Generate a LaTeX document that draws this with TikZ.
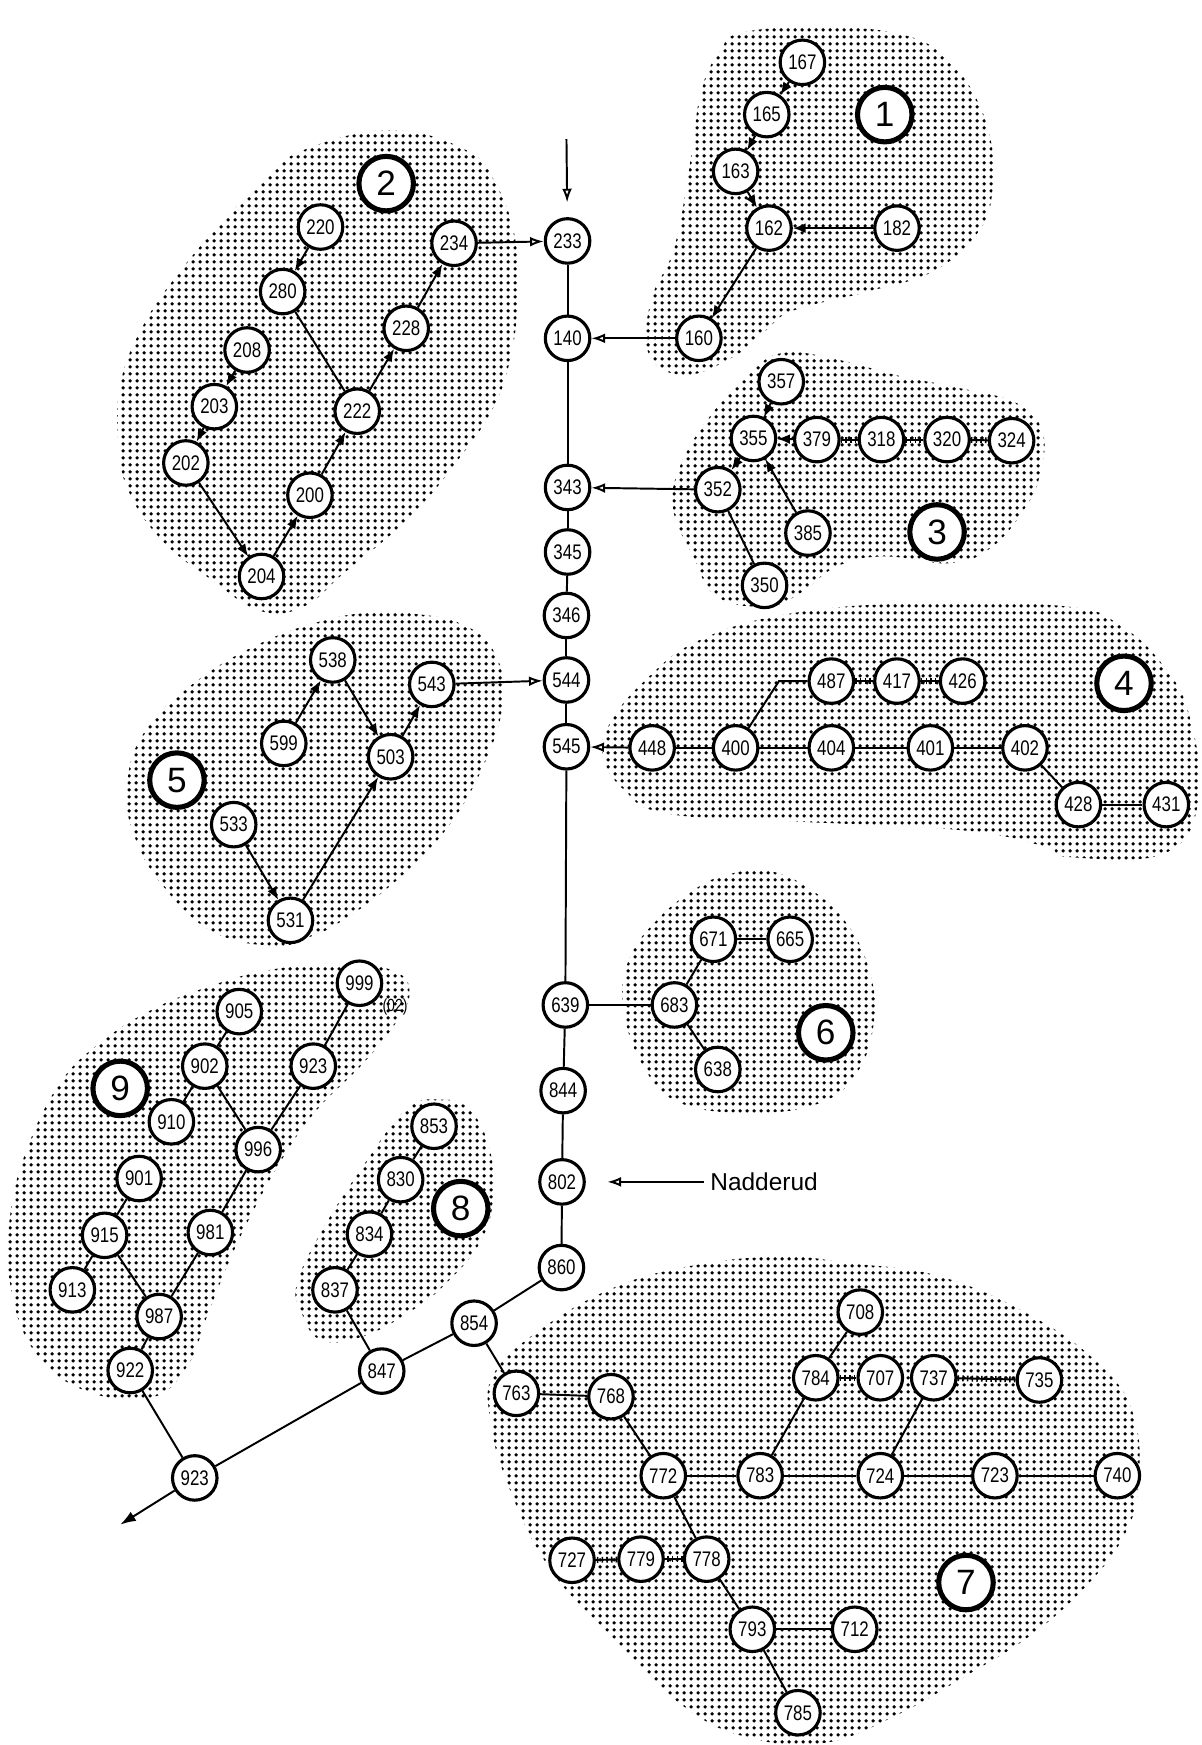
\documentclass[tikz,border=0pt]{standalone}
\usepackage{fontspec}
\setmainfont{Liberation Sans}
\newfontfamily\numfont[FakeStretch=0.8]{Liberation Sans}
\usetikzlibrary{arrows.meta,patterns.meta}

\pgfdeclarepattern{
  name=halftone,
  type=uncolored,
  bottom left={\pgfpoint{0pt}{0pt}},
  top right={\pgfpoint{3.4pt}{3.4pt}},
  tile size={\pgfpoint{3.4pt}{3.4pt}},
  code={\pgfpathcircle{\pgfpoint{1.7pt}{1.7pt}}{1.0pt}\pgfusepath{fill}}
}

\tikzset{
  stn/.style={circle, draw=black, line width=1.6pt, fill=white, minimum size=0.8cm,
    inner sep=0pt, font=\numfont\fontsize{10.8}{11}\selectfont},
  bigl/.style={circle, draw=black, line width=2.6pt, fill=white, minimum size=0.98cm,
    inner sep=0pt, font=\fontsize{18}{18}\selectfont},
  link/.style={line width=1pt},
  arr/.style={link, -{Latex[length=6.5pt,width=5pt]}},
  oarr/.style={link, -{Latex[open,length=7pt,width=5pt]}},
  rail/.style={line width=3pt, dash pattern=on 0.8pt off 1.6pt},
  blob/.style={pattern=halftone, pattern color=black}
}

\begin{document}
\begin{tikzpicture}[x=0.02cm, y=-0.02cm]
\fill[white] (0,0) rectangle (1080,1568);
\useasboundingbox (0,0) rectangle (1080,1568);

% ---------- shaded areas ----------
\fill[blob] plot[smooth cycle, tension=0.7] coordinates {(668,29) (745,24) (818,33) (854,57) (877,88) (891,130) (892,170) (880,207) (840,243) (780,262) (713,279) (688,297) (660,320) (615,337) (583,318) (585,270) (606,222) (620,147) (630,82) (647,46)};
\fill[blob] plot[smooth cycle, tension=0.7] coordinates {(270,136) (350,117) (419,135) (446,166) (463,215) (465,270) (459,320) (444,365) (414,410) (369,464) (309,515) (273,545) (234,549) (190,521) (145,485) (115,440) (106,395) (109,341) (130,290) (160,246) (199,200) (235,165)};
\fill[blob] plot[smooth cycle, tension=0.7] coordinates {(674,335) (704,317) (752,323) (809,338) (854,347) (913,362) (937,389) (934,428) (922,455) (892,491) (854,506) (794,500) (752,509) (719,533) (689,545) (644,536) (623,500) (605,458) (611,419) (638,374)};
\fill[blob] plot[smooth cycle, tension=0.7] coordinates {(712,551) (827,542) (959,545) (1008,563) (1046,599) (1069,644) (1077,719) (1046,767) (959,770) (940,761) (864,746) (712,738) (599,731) (561,710) (542,680) (548,650) (580,611) (629,575)};
\fill[blob] plot[smooth cycle, tension=0.7] coordinates {(338,550) (368,551) (413,560) (443,584) (452,629) (434,689) (398,749) (353,794) (308,827) (278,842) (245,850) (189,836) (144,793) (120,749) (114,707) (129,659) (174,614) (234,578) (293,557)};
\fill[blob] plot[smooth cycle, tension=0.7] coordinates {(647,788) (686,782) (725,797) (761,830) (782,875) (785,920) (770,964) (737,991) (677,1000) (611,991) (578,958) (560,905) (566,860) (593,824) (623,800)};
\fill[blob] plot[smooth cycle, tension=0.7] coordinates {(240,872) (300,866) (353,872) (368,893) (353,923) (324,958) (285,997) (255,1039) (225,1093) (204,1138) (186,1183) (168,1228) (135,1256) (75,1249) (30,1213) (9,1153) (9,1093) (24,1033) (54,973) (90,937) (135,908) (186,887)};
\fill[blob] plot[smooth cycle, tension=0.7] coordinates {(395,988) (422,997) (440,1033) (443,1078) (431,1117) (401,1153) (371,1177) (326,1201) (288,1204) (270,1177) (267,1153) (288,1108) (326,1048) (365,997)};
\fill[blob] plot[smooth cycle, tension=0.7] coordinates {(700,1129) (763,1135) (845,1147) (928,1183) (990,1228) (1019,1273) (1023,1333) (1011,1378) (978,1423) (928,1468) (866,1507) (804,1542) (742,1566) (680,1563) (618,1536) (547,1468) (493,1408) (456,1333) (440,1273) (444,1234) (481,1198) (547,1159) (618,1138)};

% ---------- trunk ----------
\node[stn] (n233) at (510,216.5) {233};
\node[stn] (n140) at (510,304) {140};
\node[stn] (n343) at (510,438) {343};
\node[stn] (n345) at (510,496) {345};
\node[stn] (n346) at (509,553) {346};
\node[stn] (n544) at (509,611) {544};
\node[stn] (n545) at (509,671) {545};
\node[stn] (n639) at (508,903) {639};
\node[stn] (n844) at (506,980) {844};
\node[stn] (n802) at (505,1062) {802};
\node[stn] (n860) at (504.5,1139) {860};
\node[stn] (n854) at (426,1189) {854};
\node[stn] (n847) at (343,1232) {847};
\node[stn] (n923b) at (175,1328) {923};

% ---------- cluster 1 ----------
\node[stn] (n167) at (721,56) {167};
\node[stn] (n165) at (689,103) {165};
\node[stn] (n163) at (661,154) {163};
\node[stn] (n162) at (691,205) {162};
\node[stn] (n182) at (806,205) {182};
\node[stn] (n160) at (628,304) {160};
\node[bigl] (L1) at (795,103) {1};

% ---------- cluster 2 ----------
\node[stn] (n220) at (288,204) {220};
\node[stn] (n280) at (254,262) {280};
\node[stn] (n208) at (222,314.5) {208};
\node[stn] (n203) at (192.6,365.4) {203};
\node[stn] (n202) at (167,416) {202};
\node[stn] (n204) at (235,518) {204};
\node[stn] (n200) at (278.5,445) {200};
\node[stn] (n222) at (321,369.5) {222};
\node[stn] (n228) at (365,295) {228};
\node[stn] (n234) at (408,218.6) {234};
\node[bigl] (L2) at (347,165) {2};

% ---------- cluster 3 ----------
\node[stn] (n357) at (702,343) {357};
\node[stn] (n355) at (677,394) {355};
\node[stn] (n379) at (734,395) {379};
\node[stn] (n318) at (792,395) {318};
\node[stn] (n320) at (851,395) {320};
\node[stn] (n324) at (909,396) {324};
\node[stn] (n352) at (645,440) {352};
\node[stn] (n385) at (726,479) {385};
\node[stn] (n350) at (687,526) {350};
\node[bigl] (L3) at (842,478) {3};

% ---------- cluster 4 ----------
\node[stn] (n448) at (586,672) {448};
\node[stn] (n400) at (661,672) {400};
\node[stn] (n404) at (747,672) {404};
\node[stn] (n401) at (836,672) {401};
\node[stn] (n402) at (921,672) {402};
\node[stn] (n428) at (969,723) {428};
\node[stn] (n431) at (1048,723) {431};
\node[stn] (n487) at (747,612) {487};
\node[stn] (n417) at (806,612) {417};
\node[stn] (n426) at (865,612) {426};
\node[bigl] (L4) at (1010,614) {4};
\coordinate (c400) at (700,612);

% ---------- cluster 5 ----------
\node[stn] (n538) at (299,593) {538};
\node[stn] (n543) at (388,615) {543};
\node[stn] (n599) at (255,668) {599};
\node[stn] (n503) at (351,680) {503};
\node[stn] (n533) at (210,741) {533};
\node[stn] (n531) at (261,827) {531};
\node[bigl] (L5) at (159,701) {5};

% ---------- cluster 6 ----------
\node[stn] (n683) at (606,903) {683};
\node[stn] (n671) at (641,844) {671};
\node[stn] (n665) at (710,844) {665};
\node[stn] (n638) at (645,961) {638};
\node[bigl] (L6) at (742,928) {6};

% ---------- cluster 7 ----------
\node[stn] (n708) at (773,1179) {708};
\node[stn] (n784) at (733,1238) {784};
\node[stn] (n707) at (791,1238) {707};
\node[stn] (n737) at (839,1238) {737};
\node[stn] (n735) at (934,1240) {735};
\node[stn] (n763) at (464,1252) {763};
\node[stn] (n768) at (549,1255) {768};
\node[stn] (n772) at (596,1326) {772};
\node[stn] (n783) at (683,1326) {783};
\node[stn] (n724) at (791,1326) {724};
\node[stn] (n723) at (894,1326) {723};
\node[stn] (n740) at (1004,1326) {740};
\node[stn] (n727) at (514,1402) {727};
\node[stn] (n779) at (576,1401) {779};
\node[stn] (n778) at (635,1401) {778};
\node[stn] (n793) at (676,1464) {793};
\node[stn] (n712) at (768,1464) {712};
\node[stn] (n785) at (717,1539) {785};
\node[bigl] (L7) at (868,1422) {7};

% ---------- cluster 8 ----------
\node[stn] (n853) at (390,1012) {853};
\node[stn] (n830) at (360,1060) {830};
\node[stn] (n834) at (332,1109) {834};
\node[stn] (n837) at (301,1159) {837};
\node[bigl] (L8) at (414,1086) {8};

% ---------- cluster 9 ----------
\node[stn] (n999) at (323,883.5) {999};
\node[font=\numfont\fontsize{9}{10}\selectfont, inner sep=0pt] (t02) at (355,905) {(02)};
\node[stn] (n905) at (215,909) {905};
\node[stn] (n902) at (184,958) {902};
\node[stn] (n923a) at (281.5,958) {923};
\node[stn] (n910) at (154,1008) {910};
\node[stn] (n996) at (232,1033) {996};
\node[stn] (n901) at (125,1059) {901};
\node[stn] (n915) at (94,1110) {915};
\node[stn] (n981) at (189,1107.5) {981};
\node[stn] (n913) at (65,1159) {913};
\node[stn] (n987) at (143,1183) {987};
\node[stn] (n922) at (117,1231.5) {922};
\node[bigl] (L9) at (108,978) {9};

% ---------- free ends ----------
\coordinate (topin) at (509,125);
\coordinate (outc) at (108,1370);
\node[anchor=west, inner sep=0pt, font=\fontsize{12.5}{14}\selectfont] (nad) at (638,1062) {Nadderud};

% ---------- trunk connectors ----------
\draw[link] (n233) -- (n140);
\draw[link] (n140) -- (n343);
\draw[link] (n343) -- (n345);
\draw[link] (n345) -- (n346);
\draw[link] (n346) -- (n544);
\draw[link] (n544) -- (n545);
\draw[link] (n545) -- (n639);
\draw[link] (n639) -- (n844);
\draw[link] (n844) -- (n802);
\draw[link] (n802) -- (n860);
\draw[link] (n860) -- (n854);
\draw[link] (n854) -- (n847);
\draw[link] (n847) -- (n923b);
\draw[link, -{Latex[length=8pt,width=5.5pt]}] (n923b) -- (outc);
\draw[oarr, shorten >=7.5pt] (topin) -- (n233);
\draw[oarr, shorten >=11pt] ([xshift=-3pt]nad.west) -- (n802);

% ---------- cluster 1 connectors ----------
\draw[arr] (n167) -- (n165);
\draw[arr] (n165) -- (n163);
\draw[arr] (n163) -- (n162);
\draw[arr] (n182) -- (n162);
\draw[arr] (n162) -- (n160);
\draw[oarr] (n160) -- (n140);

% ---------- cluster 2 connectors ----------
\draw[arr] (n220) -- (n280);
\draw[link] (n280) -- (n222);
\draw[arr] (n208) -- (n203);
\draw[arr] (n203) -- (n202);
\draw[arr] (n202) -- (n204);
\draw[arr] (n204) -- (n200);
\draw[arr] (n200) -- (n222);
\draw[arr] (n222) -- (n228);
\draw[arr] (n228) -- (n234);
\draw[oarr] (n234) -- (n233);

% ---------- cluster 3 connectors ----------
\draw[arr] (n357) -- (n355);
\draw[arr] (n379) -- (n355);
\draw[arr] (n385) -- (n355);
\draw[arr] (n355) -- (n352);
\draw[link] (n350) -- (n352);
\draw[oarr] (n352) -- (n343);
\draw[link] (n379) -- (n318);
\draw[rail] (n379) -- (n318);
\draw[link] (n318) -- (n320);
\draw[rail] (n318) -- (n320);
\draw[link] (n320) -- (n324);
\draw[rail] (n320) -- (n324);

% ---------- cluster 4 connectors ----------
\draw[oarr] (n448) -- (n545);
\draw[link] (n400) -- (n448);
\draw[link] (n400) -- (n404);
\draw[link] (n404) -- (n401);
\draw[link] (n401) -- (n402);
\draw[link] (n402) -- (n428);
\draw[link] (n428) -- (n431);
\draw[link] (n400) -- (c400) -- (n487);
\draw[link] (n487) -- (n417);
\draw[rail] (n487) -- (n417);
\draw[link] (n417) -- (n426);
\draw[rail] (n417) -- (n426);

% ---------- cluster 5 connectors ----------
\draw[arr] (n599) -- (n538);
\draw[arr] (n538) -- (n503);
\draw[arr] (n503) -- (n543);
\draw[arr] (n533) -- (n531);
\draw[arr] (n531) -- (n503);
\draw[oarr] (n543) -- (n544);

% ---------- cluster 6 connectors ----------
\draw[link] (n639) -- (n683);
\draw[link] (n683) -- (n671);
\draw[link] (n671) -- (n665);
\draw[link] (n683) -- (n638);

% ---------- cluster 7 connectors ----------
\draw[link] (n854) -- (n763);
\draw[link] (n763) -- (n768);
\draw[link] (n768) -- (n772);
\draw[link] (n772) -- (n783);
\draw[link] (n783) -- (n724);
\draw[link] (n724) -- (n723);
\draw[link] (n723) -- (n740);
\draw[link] (n783) -- (n784);
\draw[link] (n784) -- (n708);
\draw[link] (n784) -- (n707);
\draw[rail] (n784) -- (n707);
\draw[link] (n724) -- (n737);
\draw[link] (n737) -- (n735);
\draw[rail] (n737) -- (n735);
\draw[link] (n772) -- (n778);
\draw[link] (n778) -- (n779);
\draw[rail] (n778) -- (n779);
\draw[link] (n779) -- (n727);
\draw[rail] (n779) -- (n727);
\draw[link] (n778) -- (n793);
\draw[link] (n793) -- (n712);
\draw[link] (n793) -- (n785);

% ---------- cluster 8 connectors ----------
\draw[link] (n853) -- (n830);
\draw[link] (n830) -- (n834);
\draw[link] (n834) -- (n837);
\draw[link] (n837) -- (n847);

% ---------- cluster 9 connectors ----------
\draw[link] (n905) -- (n902);
\draw[link] (n902) -- (n910);
\draw[link] (n902) -- (n996);
\draw[link] (n999) -- (n923a);
\draw[link] (n923a) -- (n996);
\draw[link] (n996) -- (n981);
\draw[link] (n981) -- (n987);
\draw[link] (n901) -- (n915);
\draw[link] (n915) -- (n913);
\draw[link] (n915) -- (n987);
\draw[link] (n987) -- (n922);
\draw[link] (n922) -- (n923b);
\end{tikzpicture}
\end{document}
